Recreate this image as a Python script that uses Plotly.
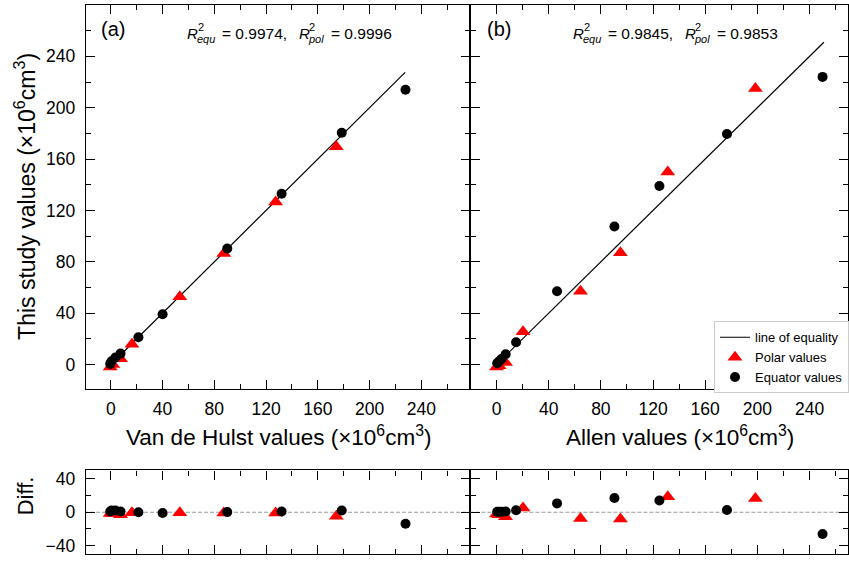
import plotly.graph_objects as go

# ---------------- data ----------------
# Panel (a): Van de Hulst vs this study
a_equ_x = [-0.5, 0.5, 3.5, 7.5, 21.3, 40.0, 90.0, 132.0, 178.5, 227.8]
a_equ_y = [0.5, 2.5, 5.5, 8.5, 21.3, 39.2, 90.3, 133.0, 180.5, 214.0]
a_pol_x = [-0.5, 1.5, 7.5, 16.3, 53.3, 87.3, 127.4, 174.3]
a_pol_y = [-2.0, 0.0, 4.5, 15.8, 52.8, 86.5, 126.5, 169.5]
a_line = [0.0, 227.5]
a_r2_equ = "0.9974"
a_r2_pol = "0.9996"

# Panel (b): Allen vs this study
b_equ_x = [0.5, 2.0, 4.0, 7.0, 15.0, 46.4, 90.4, 124.9, 176.7, 250.0]
b_equ_y = [1.0, 2.5, 4.5, 8.0, 17.3, 57.0, 107.5, 139.0, 179.5, 224.0]
b_pol_x = [0.0, 2.0, 6.9, 20.3, 64.4, 95.0, 131.3, 198.5]
b_pol_y = [-2.0, -1.0, 1.5, 25.5, 57.0, 87.0, 150.0, 215.0]
b_line = [0.0, 251.0]
b_r2_equ = "0.9845"
b_r2_pol = "0.9853"

tick_vals_main = [0, 40, 80, 120, 160, 200, 240]
tick_vals_diff = [-40, 0, 40]

W, H = 849, 561
FONT = "Liberation Sans, Arial, sans-serif"


def diff(xs, ys):
    return [y - x for x, y in zip(xs, ys)]


def px(xp):
    return xp / W


def py(yp):
    return 1 - yp / H


fig = go.Figure()

RED = "#ff0000"
tri = dict(symbol="triangle-up", size=13, color=RED)
circ = dict(symbol="circle", size=10, color="black")

# Panel a (top)
fig.add_trace(go.Scatter(x=a_line, y=a_line, mode="lines", line=dict(color="black", width=1.2),
                         xaxis="x", yaxis="y", showlegend=False))
fig.add_trace(go.Scatter(x=a_pol_x, y=a_pol_y, mode="markers", marker=tri,
                         xaxis="x", yaxis="y", showlegend=False))
fig.add_trace(go.Scatter(x=a_equ_x, y=a_equ_y, mode="markers", marker=circ,
                         xaxis="x", yaxis="y", showlegend=False))
# Panel b (top)
fig.add_trace(go.Scatter(x=b_line, y=b_line, mode="lines", line=dict(color="black", width=1.2),
                         xaxis="x2", yaxis="y2", name="line of equality"))
fig.add_trace(go.Scatter(x=b_pol_x, y=b_pol_y, mode="markers", marker=tri,
                         xaxis="x2", yaxis="y2", name="Polar values"))
fig.add_trace(go.Scatter(x=b_equ_x, y=b_equ_y, mode="markers", marker=circ,
                         xaxis="x2", yaxis="y2", name="Equator values"))
# Diff panels
for xa, ya, ex, ey, pxs, pys in [("x3", "y3", a_equ_x, a_equ_y, a_pol_x, a_pol_y),
                                  ("x4", "y4", b_equ_x, b_equ_y, b_pol_x, b_pol_y)]:
    fig.add_trace(go.Scatter(x=[-30, 320], y=[0, 0], mode="lines",
                             line=dict(color="#999999", width=1, dash="4px,2px"),
                             xaxis=xa, yaxis=ya, showlegend=False))
    fig.add_trace(go.Scatter(x=pxs, y=diff(pxs, pys), mode="markers", marker=tri,
                             xaxis=xa, yaxis=ya, showlegend=False))
    fig.add_trace(go.Scatter(x=ex, y=diff(ex, ey), mode="markers", marker=circ,
                             xaxis=xa, yaxis=ya, showlegend=False))

xa_dom = [px(86), px(471)]
xb_dom = [px(471), 1.0]
top_dom = [py(390), py(4)]
bot_dom = [py(556), py(472)]

common = dict(showline=True, linecolor="black", linewidth=1.3, mirror="allticks",
              ticks="inside", ticklen=9, tickwidth=1.1, tickcolor="black",
              showgrid=False, zeroline=False,
              tickfont=dict(family=FONT, size=17.5, color="black"))

def xaxis(dom, rng, anchor, labels):
    d = dict(common)
    d.update(domain=dom, range=rng, anchor=anchor, tickvals=tick_vals_main,
             showticklabels=labels, ticklabelstandoff=4,
             minor=dict(ticks="inside", ticklen=5, tickcolor="black", dtick=20, tick0=0))
    return d

def yaxis(dom, rng, anchor, labels, tv, mdt):
    d = dict(common)
    d.update(domain=dom, range=rng, anchor=anchor, tickvals=tv,
             showticklabels=labels, ticklabelstandoff=6,
             minor=dict(ticks="inside", ticklen=5, tickcolor="black", dtick=mdt, tick0=0))
    return d

XA_RANGE = [-19.3, 278]
XB_RANGE = [-20.0, 269.5]
Y_RANGE = [-19, 280]
D_RANGE = [-50, 50]

fig.update_layout(
    width=W, height=H, margin=dict(l=0, r=0, t=0, b=0),
    paper_bgcolor="white", plot_bgcolor="white",
    font=dict(family=FONT, color="black"),
    xaxis=xaxis(xa_dom, XA_RANGE, "y", True),
    yaxis=yaxis(top_dom, Y_RANGE, "x", True, tick_vals_main, 20),
    xaxis2=xaxis(xb_dom, XB_RANGE, "y2", True),
    yaxis2=yaxis(top_dom, Y_RANGE, "x2", False, tick_vals_main, 20),
    xaxis3=xaxis(xa_dom, XA_RANGE, "y3", False),
    yaxis3=yaxis(bot_dom, D_RANGE, "x3", True, tick_vals_diff, 20),
    xaxis4=xaxis(xb_dom, XB_RANGE, "y4", False),
    yaxis4=yaxis(bot_dom, D_RANGE, "x4", False, tick_vals_diff, 20),
    legend=dict(x=px(715), y=py(322), xanchor="left", yanchor="top",
                bgcolor="white", bordercolor="#cccccc", borderwidth=1,
                font=dict(family=FONT, size=13, color="black"),
                itemwidth=30, tracegroupgap=0),
    showlegend=True,
)

ann = []

def text(x, y, s, size, xanchor="left", italic=False, angle=0):
    if italic:
        s = "<i>" + s + "</i>"
    ann.append(dict(x=px(x), y=py(y), xref="paper", yref="paper", text=s, showarrow=False,
                    xanchor=xanchor, yanchor="middle", textangle=angle,
                    font=dict(family=FONT, size=size, color="black")))

for off, lab, r_e, r_p in [(0, "(a)", a_r2_equ, a_r2_pol), (386.6, "(b)", b_r2_equ, b_r2_pol)]:
    text(99 + off, 28.5, lab, 20)
    text(185.5 + off, 33, "R", 15, italic=True)
    text(196 + off, 26, "2", 11)
    text(195 + off, 38, "equ", 11, italic=True)
    text(220.5 + off, 33, "= " + r_e + ",", 15.5)
    text(297 + off, 33, "R", 15, italic=True)
    text(307.5 + off, 26, "2", 11)
    text(306.5 + off, 38, "pol", 11, italic=True)
    text(329 + off, 33, "= " + r_p, 15.5)

text(278.5, 437, "Van de Hulst values (×10<sup>6</sup>cm<sup>3</sup>)", 22.5, xanchor="center")
text(681, 437, "Allen values (×10<sup>6</sup>cm<sup>3</sup>)", 22.5, xanchor="center")
text(25, 196, "This study values (×10<sup>6</sup>cm<sup>3</sup>)", 23, xanchor="center", angle=-90)
text(25, 497, "Diff.", 22, xanchor="center", angle=-90)

fig.update_layout(annotations=ann)
fig.write_html("out.html", config={"displayModeBar": False},
               post_script="document.body.style.margin='0px';")
